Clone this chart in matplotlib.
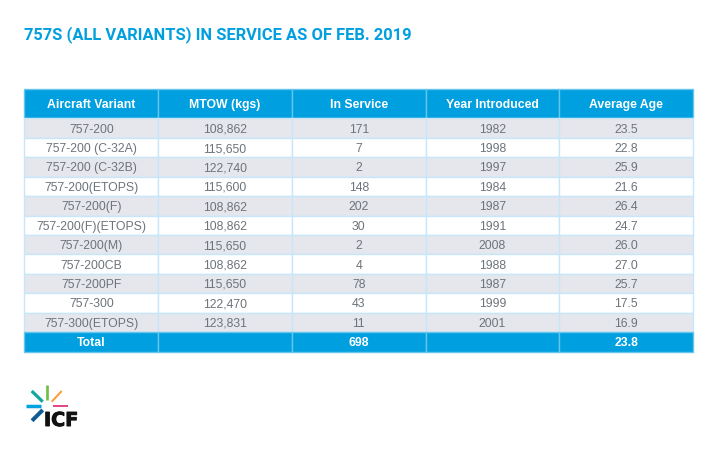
import matplotlib
matplotlib.use('Agg')
import matplotlib.pyplot as plt
import matplotlib.patheffects as pe

title = '757S (ALL VARIANTS) IN SERVICE AS OF FEB. 2019'
columns = ['Aircraft Variant', 'MTOW (kgs)', 'In Service', 'Year Introduced', 'Average Age']
variants = ['757-200', '757-200 (C-32A)', '757-200 (C-32B)', '757-200(ETOPS)', '757-200(F)',
            '757-200(F)(ETOPS)', '757-200(M)', '757-200CB', '757-200PF', '757-300', '757-300(ETOPS)']
mtow = ['108,862', '115,650', '122,740', '115,600', '108,862', '108,862', '115,650', '108,862',
        '115,650', '122,470', '123,831']
in_service = ['171', '7', '2', '148', '202', '30', '2', '4', '78', '43', '11']
year = ['1982', '1998', '1997', '1984', '1987', '1991', '2008', '1988', '1987', '1999', '2001']
age = ['23.5', '22.8', '25.9', '21.6', '26.4', '24.7', '26.0', '27.0', '25.7', '17.5', '16.9']
total = ['Total', '', '698', '', '23.8']

blue = '#009fdf'
W, H = 720, 450

fig = plt.figure(figsize=(7.2, 4.5), dpi=100, facecolor='white')
fig.text(24 / W, 1 - 39 / H, title, color=blue, fontsize=11.85, fontweight='bold', family='Roboto')

# table
ax = fig.add_axes([24.5 / W, 1 - 351.5 / H, 668.5 / W, 262.5 / H])
ax.axis('off')
rows = [list(r) for r in zip(variants, mtow, in_service, year, age)]
cells = [columns] + rows + [total]
blank = [[''] * 5 for _ in cells]
tab = ax.table(cellText=blank, bbox=[0, 0, 1, 1])
tab.auto_set_font_size(False)
head_h = 29.5 / 262.5
row_h = (1 - head_h) / 12
for (r, c), cell in tab.get_celld().items():
    cell.set_height(head_h if r == 0 else row_h)
    cell.set_linewidth(1.0)
    strong = r == 0 or r == len(cells) - 1
    if strong:
        cell.set_facecolor(blue)
        cell.set_edgecolor('#66c5ec')
    else:
        cell.set_facecolor('#e6e7ec' if r % 2 == 1 else 'white')
        cell.set_edgecolor('#c8e6fa')
    # own labels, so every row sits on the same baseline
    yc = 1 - head_h / 2 if r == 0 else 1 - head_h - (r - 0.5) * row_h
    ax.annotate(cells[r][c], xy=((c + 0.5) / 5, yc), xycoords='axes fraction', xytext=(0, -3.2),
                textcoords='offset points', ha='center', va='baseline', fontsize=8.8,
                family='Liberation Sans', fontweight='bold' if strong else 'normal',
                color='white' if strong else '#6d747a', zorder=5)

# logo
lg = fig.add_axes([0, 0, 1, 1], facecolor='none')
lg.set_xlim(0, W)
lg.set_ylim(H, 0)
lg.axis('off')
spokes = [((31.7, 391), (42.7, 401.7), '#12a79d', 2.3), ((46.7, 385), (46.7, 399.5), '#6cbe45', 1.9),
          ((61.7, 391), (51.7, 401.7), '#f7a13a', 1.5), ((53.3, 405.8), (67.7, 405.8), '#e0246f', 1.2),
          ((26, 405.7), (41, 405.7), '#00a3df', 2.5), ((32, 420.7), (42.7, 410), '#0f5c94', 2.9)]
for a, b, col, lw in spokes:
    lg.plot([a[0], b[0]], [a[1], b[1]], color=col, lw=lw, solid_capstyle='butt')
lg.text(44, 426, 'ICF', color='#111111', fontsize=13.8, fontweight='bold', family='DejaVu Sans', va='baseline',
        path_effects=[pe.withStroke(linewidth=0.7, foreground='#111111')])

fig.savefig('out.png', dpi=100)
